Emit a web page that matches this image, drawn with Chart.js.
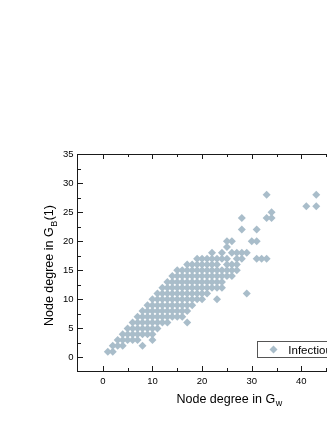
<!DOCTYPE html>
<html><head><meta charset="utf-8">
<script src="https://cdn.jsdelivr.net/npm/chart.js@4"></script>
<style>
html,body{margin:0;padding:0;background:#fff;overflow:hidden;width:327px;height:423px}
#wrap{position:absolute;left:0;top:0;width:380px;height:423px}
</style></head>
<body><div id="wrap"><canvas id="c" width="380" height="423"></canvas></div>
<script>
// Node degree in G_w (x) and in G_B(1) (y), one line per x column
const gwDegree = [
  1,
  2,2,
  3,3,
  4,4,4,
  5,5,5,
  6,6,6,6,
  7,7,7,7,7,
  8,8,8,8,8,8,
  9,9,9,9,9,9,
  10,10,10,10,10,10,10,10,
  11,11,11,11,11,11,11,
  12,12,12,12,12,12,12,
  13,13,13,13,13,13,13,13,
  14,14,14,14,14,14,14,14,
  15,15,15,15,15,15,15,15,15,
  16,16,16,16,16,16,16,16,16,
  17,17,17,17,17,17,17,17,17,17,
  18,18,18,18,18,18,18,18,
  19,19,19,19,19,19,19,19,
  20,20,20,20,20,20,20,20,
  21,21,21,21,21,21,21,
  22,22,22,22,22,22,22,
  23,23,23,23,23,23,23,
  24,24,24,24,24,24,
  25,25,25,25,25,25,
  26,26,26,26,26,
  27,27,27,27,
  28,28,28,28,
  29,29,
  30,
  31,31,31,
  32,
  33,33,33,
  34,34,
  41,
  43,43
];
const gbDegree = [
  1,
  1,2,
  2,3,
  2,3,4,
  3,4,5,
  3,4,5,6,
  3,4,5,6,7,
  2,4,5,6,7,8,
  4,5,6,7,8,9,
  3,4,5,6,7,8,9,10,
  5,6,7,8,9,10,11,
  6,7,8,9,10,11,12,
  6,7,8,9,10,11,12,13,
  7,8,9,10,11,12,13,14,
  7,8,9,10,11,12,13,14,15,
  7,8,9,10,11,12,13,14,15,
  6,8,9,10,11,12,13,14,15,16,
  9,10,11,12,13,14,15,16,
  10,11,12,13,14,15,16,17,
  10,11,12,13,14,15,16,17,
  11,12,13,14,15,16,17,
  12,13,14,15,16,17,18,
  10,12,13,14,15,16,17,
  12,13,14,15,17,18,
  14,15,16,17,19,20,
  14,15,16,18,20,
  15,16,17,18,
  17,18,22,24,
  11,18,
  20,
  17,20,22,
  17,
  17,24,28,
  24,25,
  26,
  26,28
];
const seriesName = 'Infectious';
const xTitle = 'Node degree in G';
const xTitleSub = 'w';
const yTitle = 'Node degree in G';
const yTitleSub = 'B';
const yTitleTail = '(1)';

const FONT = '"Liberation Sans", Arial, sans-serif';
const MARK = '#a9bdca';

const decor = {
  id: 'decor',
  afterDraw(chart) {
    const {ctx, chartArea: a, scales: {x, y}} = chart;
    ctx.save();
    ctx.strokeStyle = '#1a1a1a';
    ctx.lineWidth = 1;
    ctx.strokeRect(a.left - 0.5, a.top + 0.5, a.right - a.left, a.bottom - a.top - 1);
    ctx.beginPath();
    x.ticks.forEach(t => {
      if (t.value <= x.min || t.value >= x.max) return;
      const p = Math.round(x.getPixelForValue(t.value)) + 0.5;
      const len = t.value % 10 === 0 ? 5 : 3;
      ctx.moveTo(p, a.bottom - 1); ctx.lineTo(p, a.bottom - 1 - len);
      ctx.moveTo(p, a.top); ctx.lineTo(p, a.top + len);
    });
    y.ticks.forEach(t => {
      if (t.value <= y.min || t.value >= y.max) return;
      const p = Math.round(y.getPixelForValue(t.value)) + 0.5;
      const len = t.value % 5 === 0 ? 5 : 3;
      ctx.moveTo(a.left, p); ctx.lineTo(a.left + len, p);
      ctx.moveTo(a.right, p); ctx.lineTo(a.right - len, p);
    });
    ctx.stroke();

    // axis titles
    ctx.fillStyle = '#000';
    ctx.textBaseline = 'alphabetic';
    ctx.textAlign = 'left';
    ctx.font = '12.5px ' + FONT;
    const xt0 = 176.5, xtb = 402.5;
    ctx.fillText(xTitle, xt0, xtb);
    const w1 = ctx.measureText(xTitle).width;
    ctx.font = '9px ' + FONT;
    ctx.fillText(xTitleSub, xt0 + w1 + 0.5, xtb + 3.5);

    ctx.save();
    ctx.translate(53.3, 326);
    ctx.rotate(-Math.PI / 2);
    ctx.font = '12.5px ' + FONT;
    ctx.fillText(yTitle, 0, 0);
    let w = ctx.measureText(yTitle).width;
    ctx.font = '9px ' + FONT;
    ctx.fillText(yTitleSub, w + 0.5, 3.5);
    w += ctx.measureText(yTitleSub).width + 1;
    ctx.font = '12.5px ' + FONT;
    ctx.fillText(yTitleTail, w, 0);
    ctx.restore();

    // legend box
    ctx.strokeStyle = '#555';
    ctx.strokeRect(257.5, 341.5, 130, 16);
    const cx = 273.5, cy = 349.5, r = 4;
    ctx.fillStyle = MARK;
    ctx.beginPath();
    ctx.moveTo(cx, cy - r); ctx.lineTo(cx + r, cy); ctx.lineTo(cx, cy + r); ctx.lineTo(cx - r, cy);
    ctx.closePath(); ctx.fill();
    ctx.fillStyle = '#000';
    ctx.font = '11.5px ' + FONT;
    ctx.fillText(seriesName, 288.3, 353.8);
    ctx.restore();
  }
};

const tickFont = {family: FONT, size: 9.5};
new Chart(document.getElementById('c'), {
  type: 'scatter',
  data: {
    datasets: [{
      label: seriesName,
      data: gwDegree.map((v, i) => ({x: v, y: gbDegree[i]})),
      pointStyle: 'rectRot',
      pointRadius: 4,
      pointHoverRadius: 4,
      backgroundColor: MARK,
      borderWidth: 0
    }]
  },
  options: {
    responsive: false,
    animation: false,
    events: [],
    layout: {padding: {left: 0, top: 154, right: 29, bottom: 0}},
    plugins: {legend: {display: false}, tooltip: {enabled: false}},
    scales: {
      x: {
        type: 'linear', min: -5, max: 50,
        afterFit(s) { s.height = 51; },
        grid: {display: false, drawTicks: false},
        border: {display: false},
        ticks: {stepSize: 5, autoSkip: false, maxRotation: 0, padding: 4, color: '#000', font: tickFont,
          callback: v => (v % 10 === 0 ? v : '')}
      },
      y: {
        type: 'linear', min: -2.5, max: 35,
        afterFit(s) { s.width = 78; },
        grid: {display: false, drawTicks: false},
        border: {display: false},
        ticks: {stepSize: 2.5, autoSkip: false, padding: 4.5, color: '#000', font: tickFont,
          callback: v => (v % 5 === 0 ? v : '')}
      }
    }
  },
  plugins: [decor]
});
</script>
</body></html>
